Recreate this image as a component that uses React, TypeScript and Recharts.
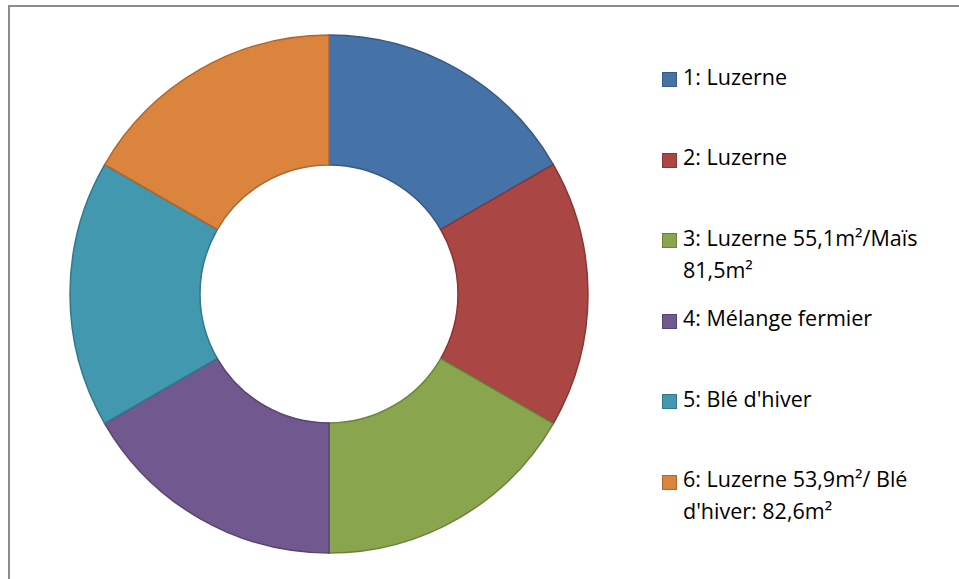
import { PieChart, Pie, Cell, Legend } from 'recharts';

const plots = [
  '1: Luzerne',
  '2: Luzerne',
  '3: Luzerne 55,1m²/Maïs 81,5m²',
  '4: Mélange fermier',
  "5: Blé d'hiver",
  "6: Luzerne 53,9m²/ Blé d'hiver: 82,6m²",
];
const shares = [1, 1, 1, 1, 1, 1];
const fills = ['#4573A7', '#AA4643', '#89A54E', '#71588F', '#4198AF', '#DB843D'];
const edges = ['#365a85', '#873633', '#6c823c', '#584470', '#32788a', '#b0672d'];

const data = plots.map((name, i) => ({ name, value: shares[i] }));

function PlotLegend() {
  return (
    <div style={{ fontFamily: '"Open Sans", sans-serif', fontSize: 21.5, color: '#000' }}>
      {plots.map((name, i) => (
        <div key={name} style={{ display: 'flex', alignItems: 'flex-start', height: 80.6 }}>
          <span
            style={{
              width: 13,
              height: 13,
              marginTop: 2,
              marginRight: 6,
              flex: 'none',
              background: fills[i],
              border: `1px solid ${edges[i]}`,
            }}
          />
          <span style={{ width: 268, lineHeight: '32px', marginTop: -9.5 }}>{name}</span>
        </div>
      ))}
    </div>
  );
}

export default function App() {
  return (
    <div style={{ position: 'fixed', left: 0, top: 0, width: 959, height: 579, overflow: 'hidden', background: '#fff' }}>
      <div
        style={{
          position: 'absolute',
          left: 8,
          top: 5,
          width: 1000,
          height: 700,
          border: '2px solid #8c8c8c',
        }}
      />
      <div style={{ position: 'absolute', left: 0, top: 0 }}>
        <PieChart width={959} height={579} margin={{ top: 0, right: 0, bottom: 0, left: 0 }}>
          <Pie
            data={data}
            dataKey="value"
            nameKey="name"
            cx={329}
            cy={294}
            innerRadius={129}
            outerRadius={259}
            startAngle={90}
            endAngle={-270}
            isAnimationActive={false}
          >
            {data.map((d, i) => (
              <Cell key={d.name} fill={fills[i]} stroke={edges[i]} strokeWidth={1.5} />
            ))}
          </Pie>
          <Legend
            layout="vertical"
            align="right"
            verticalAlign="top"
            content={() => <PlotLegend />}
            wrapperStyle={{ left: 662, top: 70, width: 295 }}
          />
        </PieChart>
      </div>
    </div>
  );
}
